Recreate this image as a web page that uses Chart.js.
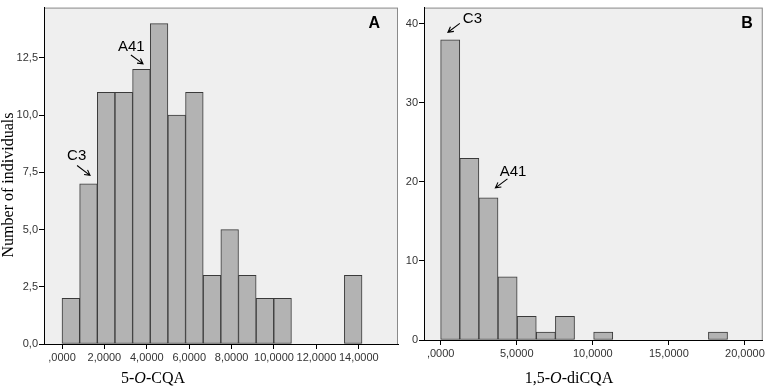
<!DOCTYPE html>
<html>
<head>
<meta charset="utf-8">
<script src="https://cdn.jsdelivr.net/npm/chart.js@4.4.1/dist/chart.umd.min.js"></script>
<style>
    html, body { margin: 0; padding: 0; background: #ffffff; }
    #wrap { position: relative; width: 767px; height: 389px; overflow: hidden; }
    #chartA { position: absolute; left: 0; top: 0; }
    #chartB { position: absolute; left: 400px; top: 0; }
</style>
</head>
<body>
<div id="wrap">
    <canvas id="chartA" width="400" height="389"></canvas>
    <canvas id="chartB" width="367" height="389"></canvas>
</div>
<script>
// Panel A: 5-O-CQA histogram (17 bins starting at 0)
const binWidthA = 0.8325;
const countsA = [2, 7, 11, 11, 12, 14, 10, 11, 3, 5, 3, 2, 2, 0, 0, 0, 3];
const xTicksA = [0, 2, 4, 6, 8, 10, 12, 14];
const yTicksA = [0, 2.5, 5, 7.5, 10, 12.5];

// Panel B: 1,5-O-diCQA histogram (15 bins starting at 0)
const binWidthB = 1.257;
const countsB = [38, 23, 18, 8, 3, 1, 3, 0, 1, 0, 0, 0, 0, 0, 1];
const xTicksB = [0, 5, 10, 15, 20];
const yTicksB = [0, 10, 20, 30, 40];

// Annotations, in data units
const notesA = [
    { text: 'C3', x: 0.24, y: 8.06, from: [0.71, 7.80], to: [1.32, 7.37] },
    { text: 'A41', x: 2.64, y: 12.8, from: [3.25, 12.63], to: [3.82, 12.24] }
];
const notesB = [
    { text: 'C3', x: 1.46, y: 40.07, from: [1.26, 40.07], to: [0.48, 38.95] },
    { text: 'A41', x: 3.88, y: 20.72, from: [4.39, 20.39], to: [3.60, 19.26] }
];

const BAR_FILL = '#b3b3b3';
const BAR_EDGE = '#3a3a3a';
const PLOT_BG = '#efefef';
const FRAME = '#8a8a8a';
const TICK_FONT = { family: 'Liberation Sans, Arial, sans-serif', size: 11 };
const SERIF = 'Liberation Serif, "Times New Roman", serif';

function histData(counts, w) {
    return counts.map((c, i) => ({ x: (i + 0.5) * w, y: c }));
}

function fmtX(v) {
    return v === 0 ? ',0000' : v.toFixed(4).replace('.', ',');
}

// draw a run of text pieces, some italic, centred on cx
function drawRich(ctx, parts, cx, y) {
    let total = 0;
    parts.forEach(p => {
        ctx.font = (p.italic ? 'italic ' : '') + '16px ' + SERIF;
        p.w = ctx.measureText(p.t).width;
        total += p.w;
    });
    let x = cx - total / 2;
    ctx.textAlign = 'left';
    ctx.textBaseline = 'alphabetic';
    parts.forEach(p => {
        ctx.font = (p.italic ? 'italic ' : '') + '16px ' + SERIF;
        ctx.fillText(p.t, x, y);
        x += p.w;
    });
}

function drawArrow(ctx, x1, y1, x2, y2) {
    const ang = Math.atan2(y2 - y1, x2 - x1);
    const head = 6;
    ctx.beginPath();
    ctx.moveTo(x1, y1);
    ctx.lineTo(x2, y2);
    ctx.moveTo(x2 - head * Math.cos(ang - 0.5), y2 - head * Math.sin(ang - 0.5));
    ctx.lineTo(x2, y2);
    ctx.lineTo(x2 - head * Math.cos(ang + 0.5), y2 - head * Math.sin(ang + 0.5));
    ctx.stroke();
}

const panelPlugin = {
    id: 'panel',
    beforeDraw(chart, args, opts) {
        const { ctx, chartArea: a } = chart;
        ctx.save();
        ctx.fillStyle = PLOT_BG;
        ctx.fillRect(a.left, a.top, a.right - a.left, a.bottom - a.top);
        ctx.strokeStyle = FRAME;
        ctx.lineWidth = 1;
        ctx.strokeRect(a.left + 0.5, a.top + 0.5, a.right - a.left - 1, a.bottom - a.top);
        ctx.restore();
    },
    afterDraw(chart, args, opts) {
        const { ctx, chartArea: a, scales } = chart;
        ctx.save();
        // panel letter
        ctx.fillStyle = '#000';
        ctx.font = 'bold 16px Liberation Sans, Arial, sans-serif';
        ctx.textAlign = 'right';
        ctx.textBaseline = 'alphabetic';
        ctx.fillText(opts.letter, a.right - opts.letterInset, a.top + 20);

        // notes with arrows
        ctx.font = '15px Liberation Sans, Arial, sans-serif';
        ctx.textAlign = 'left';
        ctx.strokeStyle = '#000';
        ctx.lineWidth = 1.1;
        opts.notes.forEach(n => {
            ctx.fillText(n.text, scales.x.getPixelForValue(n.x), scales.y.getPixelForValue(n.y));
            drawArrow(ctx,
                scales.x.getPixelForValue(n.from[0]), scales.y.getPixelForValue(n.from[1]),
                scales.x.getPixelForValue(n.to[0]), scales.y.getPixelForValue(n.to[1]));
        });

        // axis titles
        drawRich(ctx, opts.xTitle, opts.xTitleX, 383);
        if (opts.yTitle) {
            ctx.translate(9, 185);
            ctx.rotate(-Math.PI / 2);
            ctx.font = '16px ' + SERIF;
            ctx.textAlign = 'center';
            ctx.textBaseline = 'middle';
            ctx.fillText(opts.yTitle, 0, 0);
        }
        ctx.restore();
    }
};

function makeChart(id, counts, w, xTicks, yTicks, s) {
    return new Chart(document.getElementById(id).getContext('2d'), {
        type: 'bar',
        data: {
            datasets: [{
                data: histData(counts, w),
                backgroundColor: BAR_FILL,
                borderColor: BAR_EDGE,
                borderWidth: 1,
                borderSkipped: false,
                barPercentage: 1,
                categoryPercentage: 1
            }]
        },
        options: {
            responsive: false,
            animation: false,
            devicePixelRatio: 1,
            layout: { padding: { top: 3, right: s.padRight, left: 0, bottom: 0 } },
            plugins: {
                legend: { display: false },
                tooltip: { enabled: false },
                panel: s.panel
            },
            scales: {
                x: {
                    type: 'linear',
                    offset: false,
                    min: s.xMin,
                    max: s.xMax,
                    grid: { offset: false, drawOnChartArea: false, tickLength: 5, tickColor: '#000' },
                    border: { color: '#000', width: 1 },
                    ticks: { font: TICK_FONT, color: '#333', padding: 2, maxRotation: 0, callback: v => fmtX(v) },
                    afterBuildTicks: axis => { axis.ticks = xTicks.map(v => ({ value: v })); },
                    afterFit: scale => { scale.height = s.xAxisH; }
                },
                y: {
                    min: 0,
                    max: s.yMax,
                    grid: { drawOnChartArea: false, tickLength: 5, tickColor: '#000' },
                    border: { color: '#000', width: 1 },
                    ticks: { font: TICK_FONT, color: '#333', padding: 1, callback: s.yFmt },
                    afterBuildTicks: axis => { axis.ticks = yTicks.map(v => ({ value: v })); },
                    afterFit: scale => { scale.width = s.yAxisW; }
                }
            }
        },
        plugins: [panelPlugin]
    });
}

makeChart('chartA', countsA, binWidthA, xTicksA, yTicksA, {
    padRight: 2, xMin: -0.85, xMax: 15.85, yMax: 14.7, xAxisH: 45, yAxisW: 44,
    yFmt: v => v.toFixed(1).replace('.', ','),
    panel: {
        letter: 'A', letterInset: 18, notes: notesA,
        xTitle: [{ t: '5-' }, { t: 'O', italic: true }, { t: '-CQA' }], xTitleX: 153,
        yTitle: 'Number of individuals'
    }
});

makeChart('chartB', countsB, binWidthB, xTicksB, yTicksB, {
    padRight: 3, xMin: -1.094, xMax: 21.17, yMax: 42.07, xAxisH: 49, yAxisW: 24,
    yFmt: v => String(v),
    panel: {
        letter: 'B', letterInset: 10, notes: notesB,
        xTitle: [{ t: '1,5-' }, { t: 'O', italic: true }, { t: '-diCQA' }], xTitleX: 169,
        yTitle: null
    }
});
</script>
</body>
</html>
